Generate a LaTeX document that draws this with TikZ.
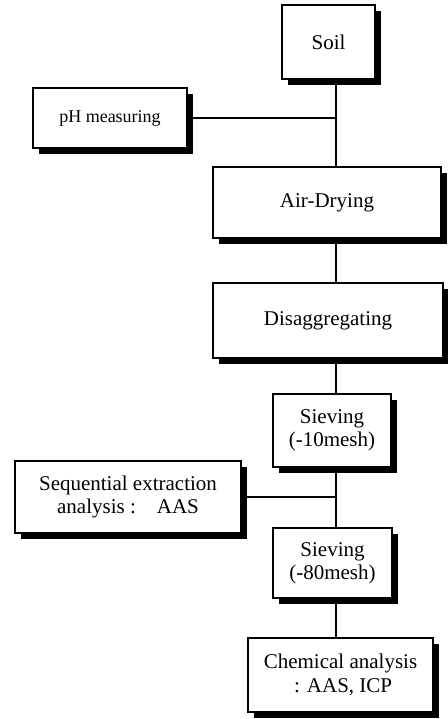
\documentclass[tikz,border=0pt]{standalone}
\usepackage{fontspec}
\setmainfont{Liberation Serif}
\usetikzlibrary{shadows}

\tikzset{
  stepbox/.style={draw, line width=1.2pt, fill=white, align=center, inner sep=2pt,
    font=\fontsize{21}{23}\selectfont,
    drop shadow={shadow xshift=6pt, shadow yshift=-6pt, opacity=1, fill=black}},
  link/.style={line width=1.2pt}
}

\begin{document}
\begin{tikzpicture}[x=1pt,y=-1pt]
\useasboundingbox (0,0) rectangle (447,719);
\coordinate (spine) at (336,0);
% boxes
\node[stepbox, minimum width=93pt, minimum height=74pt] (soil) at (328.5,42) {Soil};
\node[stepbox, minimum width=154pt, minimum height=60pt, font=\fontsize{18}{20}\selectfont] (ph) at (110,118) {pH measuring};
\node[stepbox, minimum width=228pt, minimum height=71pt] (air) at (327,202.5) {Air-Drying};
\node[stepbox, minimum width=230pt, minimum height=75pt] (dis) at (328,320.5) {Disaggregating};
\node[stepbox, minimum width=118pt, minimum height=73pt] (sieve1) at (332,430.5) {Sieving\\(-10mesh)};
\node[stepbox, minimum width=226pt, minimum height=72pt] (seq) at (128,497) {Sequential extraction\\analysis :\quad AAS};
\node[stepbox, minimum width=119pt, minimum height=70pt] (sieve2) at (332.5,563) {Sieving\\(-80mesh)};
\node[stepbox, minimum width=185pt, minimum height=74pt] (chem) at (340.5,675) {Chemical analysis\\[1pt]\ : AAS, ICP};
% connectors
\draw[link] (soil.south -| spine) -- (air.north -| spine);
\draw[link] (ph.east) -- (ph.east -| spine);
\draw[link] (air.south -| spine) -- (dis.north -| spine);
\draw[link] (dis.south -| spine) -- (sieve1.north -| spine);
\draw[link] (sieve1.south -| spine) -- (sieve2.north -| spine);
\draw[link] (seq.east) -- (seq.east -| spine);
\draw[link] (sieve2.south -| spine) -- (chem.north -| spine);
\end{tikzpicture}
\end{document}
